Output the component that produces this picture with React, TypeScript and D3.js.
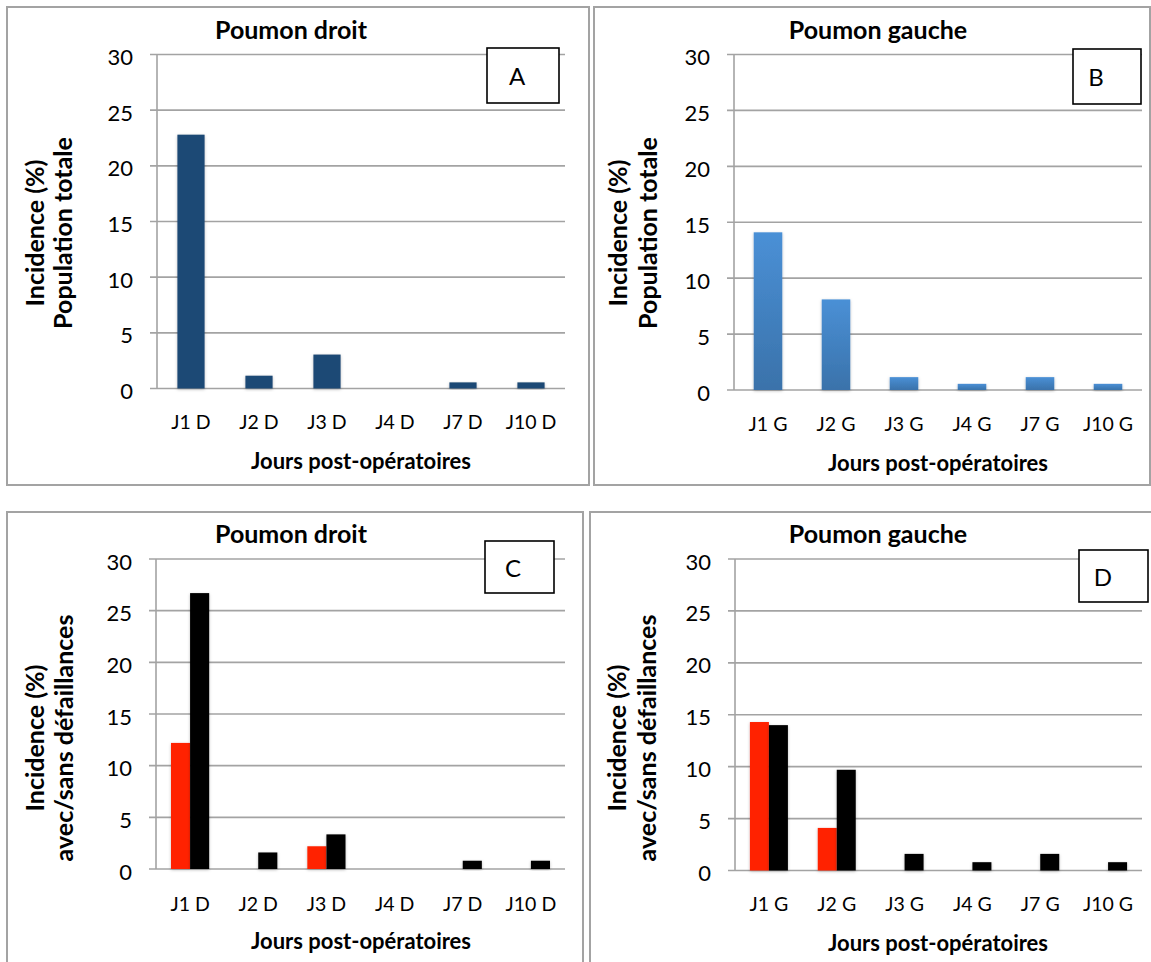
import React from "react";
import * as d3 from "d3";

const catsDroit = ["J1 D", "J2 D", "J3 D", "J4 D", "J7 D", "J10 D"];
const catsGauche = ["J1 G", "J2 G", "J3 G", "J4 G", "J7 G", "J10 G"];
const yTicks = [0, 5, 10, 15, 20, 25, 30];

// Panel A / B : population totale
const totalDroit = [22.8, 1.15, 3.05, 0, 0.55, 0.55];
const totalGauche = [14.1, 8.1, 1.15, 0.55, 1.15, 0.55];

// Panel C / D : avec (rouge) / sans (noir) défaillances
const avecDroit = [12.2, 0, 2.2, 0, 0, 0];
const sansDroit = [26.7, 1.6, 3.35, 0, 0.8, 0.8];
const avecGauche = [14.3, 4.1, 0, 0, 0, 0];
const sansGauche = [14.0, 9.7, 1.6, 0.8, 1.6, 0.8];

const FONT = "Lato, 'Open Sans', sans-serif";
const GRID = "#a3a3a3";

type Series = { values: number[]; fill: string };

type PanelCfg = {
  border: { x: number; y: number; w: number; h: number };
  plot: { left: number; right: number; top: number; bottom: number };
  title: string;
  titlePos: [number, number];
  yTitle: [string, string];
  yTitleX: [number, number];
  yTitleY: number;
  xTitle: string;
  xTitlePos: [number, number];
  labelY: number;
  cats: string[];
  series: Series[];
  barFrac: number;
  box: { x: number; y: number; w: number; h: number; letter: string; lx: number };
};

function Panel({ cfg }: { cfg: PanelCfg }) {
  const { plot } = cfg;
  const x = d3.scaleBand<string>().domain(cfg.cats).range([plot.left, plot.right]).padding(0);
  const y = d3.scaleLinear().domain([0, 30]).range([plot.bottom, plot.top]);
  const step = x.step();
  const groupW = step * cfg.barFrac;
  const barW = groupW / cfg.series.length;
  return (
    <g>
      <rect
        x={cfg.border.x}
        y={cfg.border.y}
        width={cfg.border.w}
        height={cfg.border.h}
        fill="white"
        stroke={GRID}
        strokeWidth={2}
      />
      <text
        x={cfg.titlePos[0]}
        y={cfg.titlePos[1]}
        textAnchor="middle"
        dominantBaseline="central"
        fontFamily={FONT}
        fontWeight="bold"
        fontSize={25}
      >
        {cfg.title}
      </text>
      {yTicks.map((t) => (
        <g key={t}>
          <line x1={plot.left - 7} x2={plot.right} y1={y(t)} y2={y(t)} stroke={GRID} strokeWidth={1.6} />
          <text
            x={plot.left - 24}
            y={y(t) + 2}
            textAnchor="end"
            dominantBaseline="central"
            fontFamily={FONT}
            fontSize={22}
          >
            {t}
          </text>
        </g>
      ))}
      <line x1={plot.left} x2={plot.left} y1={plot.top} y2={plot.bottom} stroke={GRID} strokeWidth={1.6} />
      {cfg.cats.map((c, i) => {
        const cx = (x(c) as number) + step / 2;
        return (
          <g key={c}>
            {cfg.series.map((s, j) => {
              const v = s.values[i];
              if (!v) return null;
              const bx = cx - groupW / 2 + j * barW;
              return (
                <rect
                  key={j}
                  x={bx}
                  y={y(v)}
                  width={barW}
                  height={y(0) - y(v)}
                  fill={s.fill}
                  filter="url(#barShadow)"
                />
              );
            })}
            <text
              x={cx}
              y={cfg.labelY}
              textAnchor="middle"
              dominantBaseline="central"
              fontFamily={FONT}
              fontSize={19.5}
            >
              {c}
            </text>
          </g>
        );
      })}
      <text
        transform={`translate(${cfg.yTitleX[0]},${cfg.yTitleY}) rotate(-90)`}
        textAnchor="middle"
        dominantBaseline="central"
        fontFamily={FONT}
        fontWeight="bold"
        fontSize={25}
      >
        {cfg.yTitle[0]}
      </text>
      <text
        transform={`translate(${cfg.yTitleX[1]},${cfg.yTitleY}) rotate(-90)`}
        textAnchor="middle"
        dominantBaseline="central"
        fontFamily={FONT}
        fontWeight="bold"
        fontSize={25}
      >
        {cfg.yTitle[1]}
      </text>
      <text
        x={cfg.xTitlePos[0]}
        y={cfg.xTitlePos[1]}
        textAnchor="middle"
        dominantBaseline="central"
        fontFamily={FONT}
        fontWeight="bold"
        fontSize={22}
      >
        {cfg.xTitle}
      </text>
      <rect
        x={cfg.box.x}
        y={cfg.box.y}
        width={cfg.box.w}
        height={cfg.box.h}
        fill="white"
        stroke="black"
        strokeWidth={1.6}
      />
      <text
        x={cfg.box.lx}
        y={cfg.box.y + cfg.box.h / 2}
        textAnchor="middle"
        dominantBaseline="central"
        fontFamily={FONT}
        fontSize={24}
      >
        {cfg.box.letter}
      </text>
    </g>
  );
}

const panels: PanelCfg[] = [
  {
    border: { x: 7, y: 7, w: 582, h: 478 },
    plot: { left: 157, right: 565, top: 54.5, bottom: 388.5 },
    title: "Poumon droit",
    titlePos: [291, 29],
    yTitle: ["Incidence (%)", "Population totale"],
    yTitleX: [34, 62],
    yTitleY: 233,
    xTitle: "Jours post-opératoires",
    xTitlePos: [361, 460],
    labelY: 421,
    cats: catsDroit,
    series: [{ values: totalDroit, fill: "#1f4a74" }],
    barFrac: 0.4,
    box: { x: 487, y: 48, w: 72, h: 55, letter: "A", lx: 517 },
  },
  {
    border: { x: 594, y: 7, w: 556, h: 478 },
    plot: { left: 734, right: 1142, top: 54.5, bottom: 390 },
    title: "Poumon gauche",
    titlePos: [878, 29],
    yTitle: ["Incidence (%)", "Population totale"],
    yTitleX: [617, 647],
    yTitleY: 233,
    xTitle: "Jours post-opératoires",
    xTitlePos: [938, 462],
    labelY: 423,
    cats: catsGauche,
    series: [{ values: totalGauche, fill: "url(#blueGrad)" }],
    barFrac: 0.42,
    box: { x: 1073, y: 49, w: 68, h: 55, letter: "B", lx: 1096 },
  },
  {
    border: { x: 7, y: 512, w: 576, h: 470 },
    plot: { left: 156, right: 565, top: 559, bottom: 869 },
    title: "Poumon droit",
    titlePos: [291, 533],
    yTitle: ["Incidence (%)", "avec/sans défaillances"],
    yTitleX: [34, 63],
    yTitleY: 738,
    xTitle: "Jours post-opératoires",
    xTitlePos: [361, 940],
    labelY: 903,
    cats: catsDroit,
    series: [
      { values: avecDroit, fill: "#ff2200" },
      { values: sansDroit, fill: "#000000" },
    ],
    barFrac: 0.56,
    box: { x: 485, y: 541, w: 69, h: 52, letter: "C", lx: 513 },
  },
  {
    border: { x: 590, y: 512, w: 570, h: 470 },
    plot: { left: 735, right: 1142, top: 559, bottom: 870.5 },
    title: "Poumon gauche",
    titlePos: [878, 533],
    yTitle: ["Incidence (%)", "avec/sans défaillances"],
    yTitleX: [616, 646],
    yTitleY: 738,
    xTitle: "Jours post-opératoires",
    xTitlePos: [938, 942],
    labelY: 903,
    cats: catsGauche,
    series: [
      { values: avecGauche, fill: "#ff2200" },
      { values: sansGauche, fill: "#000000" },
    ],
    barFrac: 0.56,
    box: { x: 1079, y: 550, w: 69, h: 52, letter: "D", lx: 1103 },
  },
];

export default function App() {
  return (
    <svg
      width={1151}
      height={962}
      style={{ position: "absolute", left: 0, top: 0, display: "block", background: "white" }}
    >
      <defs>
        <linearGradient id="blueGrad" x1="0" y1="0" x2="0" y2="1">
          <stop offset="0%" stopColor="#4a90d6" />
          <stop offset="100%" stopColor="#3a72aa" />
        </linearGradient>
        <filter id="barShadow" x="-30%" y="-10%" width="160%" height="130%">
          <feDropShadow dx="0" dy="1" stdDeviation="1.5" floodColor="#000" floodOpacity="0.25" />
        </filter>
      </defs>
      <rect x={0} y={0} width={1151} height={962} fill="white" />
      {panels.map((p, i) => (
        <Panel key={i} cfg={p} />
      ))}
    </svg>
  );
}
